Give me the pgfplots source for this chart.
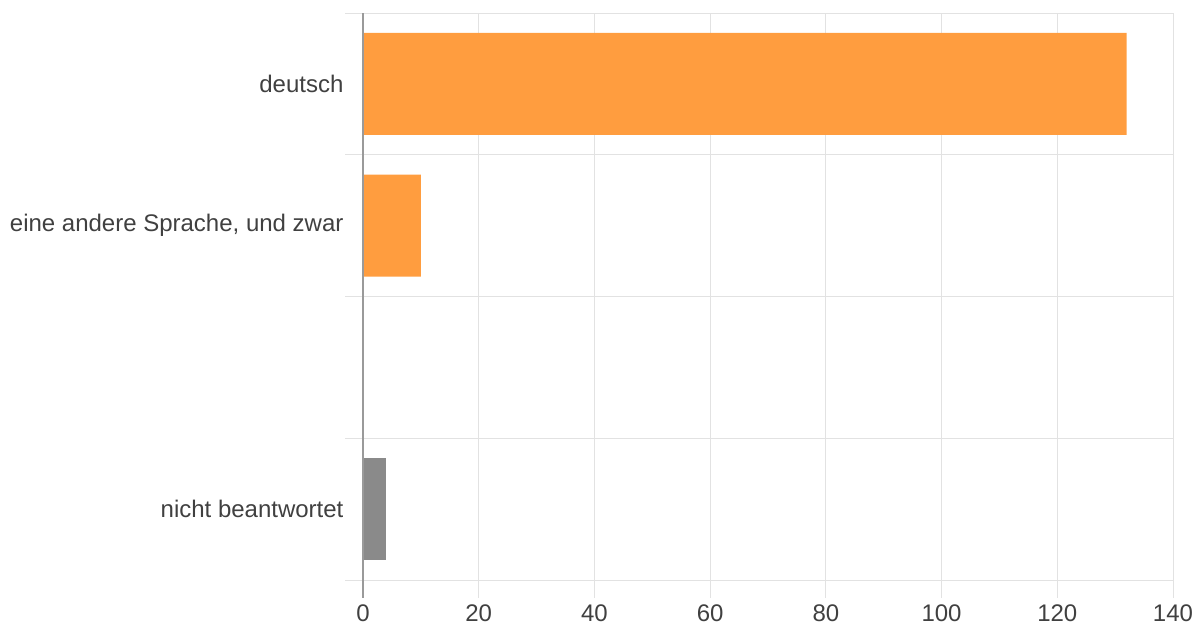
\documentclass[border=0pt]{standalone}
\usepackage{fontspec}
\setmainfont{Liberation Sans}
\usepackage{pgfplots}
\pgfplotsset{compat=1.18}

\definecolor{barorange}{HTML}{FF9D3F}
\definecolor{bargray}{HTML}{8A8A8A}
\definecolor{gridgray}{HTML}{E2E2E2}
\definecolor{axisgray}{HTML}{9A9A9A}
\definecolor{labelgray}{HTML}{404040}

\begin{document}
\begin{tikzpicture}
% fix the page to the reference's 1204x626 frame (1px = 1pt)
\useasboundingbox (-363pt,-46pt) rectangle (841pt,580pt);
\begin{axis}[
    scale only axis,
    width=810pt,
    height=567pt,
    xmin=0, xmax=140,
    ymin=-0.5, ymax=3.5,
    y dir=reverse,
    xbar,
    bar width=0.72,
    bar shift=0pt,
    clip=false,
    axis line style={draw=none},
    xtick={0,20,...,140},
    ytick={-0.5,0.5,1.5,2.5,3.5},
    yticklabels={},
    xtick pos=bottom,
    ytick pos=left,
    xmajorgrids, ymajorgrids,
    grid style={gridgray, line width=1pt},
    tick align=outside,
    major tick length=18pt,
    tick style={gridgray, line width=1pt},
    extra y ticks={0,1,2,3},
    extra y tick labels={deutsch,{eine andere Sprache, und zwar},,nicht beantwortet},
    extra y tick style={major tick length=0pt, grid=none,
        yticklabel style={xshift=-16pt}},
    ticklabel style={font=\fontsize{24}{28}\selectfont, text=labelgray},
    xticklabel style={yshift=-3pt},
    /pgf/number format/assume math mode=true,
]
\addplot[fill=barorange, draw=none] coordinates {
    (132,0)
    (10,1)
};
\addplot[fill=bargray, draw=none] coordinates {
    (4,3)
};
\draw[axisgray, line width=1.2pt] (axis cs:0,-0.5) -- ([yshift=-18pt]axis cs:0,3.5);
\end{axis}
\end{tikzpicture}
\end{document}
